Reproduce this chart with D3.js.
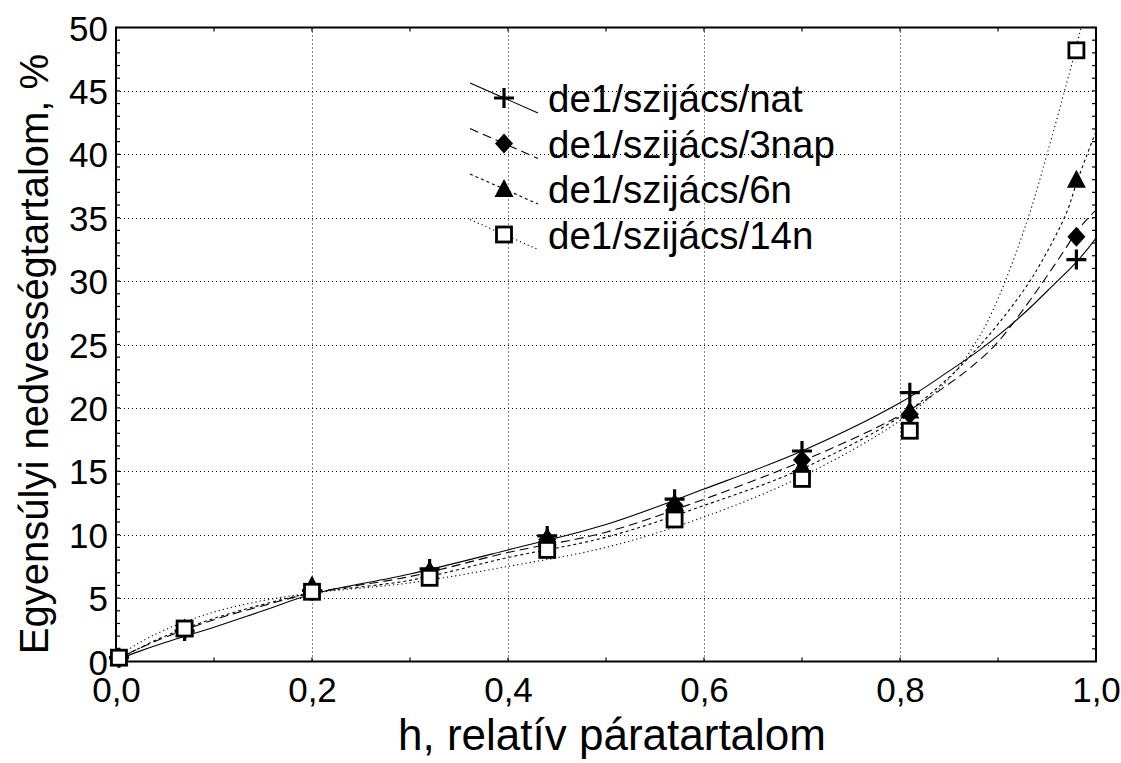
<!DOCTYPE html>
<html>
<head>
<meta charset="utf-8">
<script src="https://cdn.jsdelivr.net/npm/d3@7"></script>
<style>
  html, body { margin: 0; padding: 0; background: #fff; }
  svg { display: block; font-family: "Liberation Sans", Arial, sans-serif; }
</style>
</head>
<body>
<svg id="chart" width="1121" height="763"></svg>
<script>
// Relative humidity of the measurement points
const pointX = [0.003, 0.07, 0.2, 0.32, 0.44, 0.57, 0.70, 0.81, 0.98];

// Measured equilibrium moisture content, %
const natPoints   = [0.3, 2.4, 5.6, 7.3, 9.9, 12.8, 16.6, 21.2, 31.7];
const nap3Points  = [0.3, 2.5, 5.7, 7.0, 9.6, 12.3, 15.9, 19.5, 33.5];
const n6Points    = [0.3, 2.6, 6.0, 7.2, 9.8, 12.5, 15.4, 19.8, 38.0];
const n14Points   = [0.3, 2.6, 5.5, 6.6, 8.8, 11.2, 14.4, 18.2, 48.2];

// Fitted sorption isotherms sampled along h
const curveX      = [0, 0.02, 0.05, 0.1, 0.15, 0.2, 0.3, 0.4, 0.5, 0.6, 0.7, 0.8, 0.85, 0.88, 0.9, 0.93, 0.95, 0.97, 0.98, 0.99, 1.0];
const natCurve    = [0.1, 0.7, 1.5, 2.7, 4.0, 5.3, 6.9, 8.8, 10.8, 13.6, 16.6, 20.4, 22.9, 24.5, 25.7, 27.7, 29.2, 30.7, 31.5, 32.4, 33.4];
const nap3Curve   = [0.1, 0.9, 1.9, 3.3, 4.4, 5.4, 6.7, 8.6, 10.2, 12.8, 15.8, 19.4, 21.9, 23.7, 25.2, 28.2, 30.4, 32.7, 33.9, 34.8, 35.6];
const n6Curve     = [0.1, 0.9, 2.0, 3.4, 4.5, 5.4, 6.4, 8.2, 9.8, 12.3, 15.2, 19.3, 22.4, 24.8, 26.6, 29.7, 32.3, 35.4, 37.7, 39.8, 41.8];
const n14Curve    = [0.3, 1.3, 2.5, 3.9, 4.8, 5.4, 6.2, 7.5, 9.0, 11.4, 14.6, 19.0, 22.3, 25.5, 28.6, 34.8, 40.0, 45.6, 48.5, 51.8, 55.0];

const seriesNames = ["de1/szijács/nat", "de1/szijács/3nap", "de1/szijács/6n", "de1/szijács/14n"];

const xTicks = [0, 0.2, 0.4, 0.6, 0.8, 1.0];
const yTicks = [0, 5, 10, 15, 20, 25, 30, 35, 40, 45, 50];

const xTitle = "h, relatív páratartalom";
const yTitle = "Egyensúlyi nedvességtartalom, %";

const series = [
  { name: seriesNames[0], points: natPoints,  curve: natCurve,  dash: null,    marker: "plus" },
  { name: seriesNames[1], points: nap3Points, curve: nap3Curve, dash: "9,5",   marker: "diamond" },
  { name: seriesNames[2], points: n6Points,   curve: n6Curve,   dash: "3,3",   marker: "triangle" },
  { name: seriesNames[3], points: n14Points,  curve: n14Curve,  dash: "1.2,3", marker: "square" }
];

const svg = d3.select("#chart");
const plot = { left: 116, right: 1096, top: 27.5, bottom: 661.5 };

const x = d3.scaleLinear().domain([0, 1]).range([plot.left, plot.right]);
const y = d3.scaleLinear().domain([0, 50]).range([plot.bottom, plot.top]);

svg.append("defs").append("clipPath").attr("id", "plotClip")
  .append("rect")
  .attr("x", plot.left).attr("y", plot.top)
  .attr("width", plot.right - plot.left).attr("height", plot.bottom - plot.top);

// Dotted grid at the major ticks
const grid = svg.append("g").attr("stroke", "#000").attr("stroke-width", 1).attr("stroke-dasharray", "1,3");
grid.selectAll("line.gx").data(xTicks.slice(1, -1)).join("line")
  .attr("x1", d => Math.round(x(d)) + 0.5).attr("x2", d => Math.round(x(d)) + 0.5)
  .attr("y1", plot.top).attr("y2", plot.bottom);
grid.selectAll("line.gy").data(yTicks.slice(1, -1)).join("line")
  .attr("x1", plot.left).attr("x2", plot.right)
  .attr("y1", d => Math.round(y(d)) + 0.5).attr("y2", d => Math.round(y(d)) + 0.5);

// Inward ticks on all four sides
const minorX = d3.range(0, 11).map(i => i / 10);
const minorY = d3.range(0, 51);
const ticks = svg.append("g").attr("stroke", "#000").attr("stroke-width", 1.2);
ticks.selectAll("line.bx").data(minorX).join("line")
  .attr("x1", d => x(d)).attr("x2", d => x(d))
  .attr("y1", plot.bottom).attr("y2", plot.bottom - 4);
ticks.selectAll("line.tx").data(minorX).join("line")
  .attr("x1", d => x(d)).attr("x2", d => x(d))
  .attr("y1", plot.top).attr("y2", plot.top + 4);
ticks.selectAll("line.ly").data(minorY).join("line")
  .attr("x1", plot.left).attr("x2", plot.left + 4)
  .attr("y1", d => y(d)).attr("y2", d => y(d));
ticks.selectAll("line.ry").data(minorY).join("line")
  .attr("x1", plot.right).attr("x2", plot.right - 4)
  .attr("y1", d => y(d)).attr("y2", d => y(d));

// Frame
svg.append("rect")
  .attr("x", plot.left).attr("y", plot.top)
  .attr("width", plot.right - plot.left).attr("height", plot.bottom - plot.top)
  .attr("fill", "none").attr("stroke", "#000").attr("stroke-width", 2);

// Tick labels through d3 axes (lines hidden, labels kept)
const fmt = d => d3.format(".1f")(d).replace(".", ",");
const xAxis = svg.append("g")
  .attr("transform", `translate(0,${plot.bottom})`)
  .call(d3.axisBottom(x).tickValues(xTicks).tickFormat(fmt).tickSize(0).tickPadding(16));
const yAxis = svg.append("g")
  .attr("transform", `translate(${plot.left},0)`)
  .call(d3.axisLeft(y).tickValues(yTicks).tickFormat(d3.format("d")).tickSize(0).tickPadding(8));
[xAxis, yAxis].forEach(a => {
  a.select(".domain").remove();
  a.selectAll("text").attr("font-size", 35).attr("fill", "#000")
    .attr("font-family", "Liberation Sans, Arial, sans-serif");
});
yAxis.selectAll("text").attr("dy", "0.36em");

// Axis titles
svg.append("text")
  .attr("x", 612).attr("y", 750)
  .attr("text-anchor", "middle").attr("font-size", 44).text(xTitle);
svg.append("text")
  .attr("transform", `translate(48,${354}) rotate(-90)`)
  .attr("text-anchor", "middle").attr("font-size", 40).text(yTitle);

// Fitted curves
const lineGen = d3.line().x(d => x(d[0])).y(d => y(d[1])).curve(d3.curveCatmullRom.alpha(0.5));
const curves = svg.append("g").attr("clip-path", "url(#plotClip)");
series.forEach(s => {
  curves.append("path")
    .datum(curveX.map((h, i) => [h, s.curve[i]]))
    .attr("d", lineGen)
    .attr("fill", "none").attr("stroke", "#000").attr("stroke-width", 1.1)
    .attr("stroke-dasharray", s.dash);
});

// Marker shapes
function drawMarker(g, type, cx, cy) {
  if (type === "plus") {
    g.append("path").attr("d", `M${cx - 10},${cy}H${cx + 10}M${cx},${cy - 10}V${cy + 10}`)
      .attr("stroke", "#000").attr("stroke-width", 3.2).attr("fill", "none");
  } else if (type === "diamond") {
    g.append("path").attr("d", `M${cx},${cy - 10}L${cx + 9},${cy}L${cx},${cy + 10}L${cx - 9},${cy}Z`)
      .attr("fill", "#000");
  } else if (type === "triangle") {
    g.append("path").attr("d", `M${cx},${cy - 10}L${cx + 9.5},${cy + 8}L${cx - 9.5},${cy + 8}Z`)
      .attr("fill", "#000");
  } else {
    g.append("rect").attr("x", cx - 7.5).attr("y", cy - 7.5).attr("width", 15).attr("height", 15)
      .attr("fill", "#fff").attr("stroke", "#000").attr("stroke-width", 2.8);
  }
}

const marks = svg.append("g");
series.forEach(s => {
  const g = marks.append("g");
  s.points.forEach((v, i) => drawMarker(g, s.marker, x(pointX[i]), y(v)));
});

// Legend with slanted line samples
const legend = svg.append("g");
series.forEach((s, i) => {
  const cy = 98 + i * 45.5;
  legend.append("line")
    .attr("x1", 470).attr("y1", cy - 15).attr("x2", 538).attr("y2", cy + 15)
    .attr("stroke", "#000").attr("stroke-width", 1.1).attr("stroke-dasharray", s.dash);
  drawMarker(legend.append("g"), s.marker, 504, cy);
  legend.append("text")
    .attr("x", 548).attr("y", cy + 14)
    .attr("font-size", 38.5).text(s.name);
});
</script>
</body>
</html>
